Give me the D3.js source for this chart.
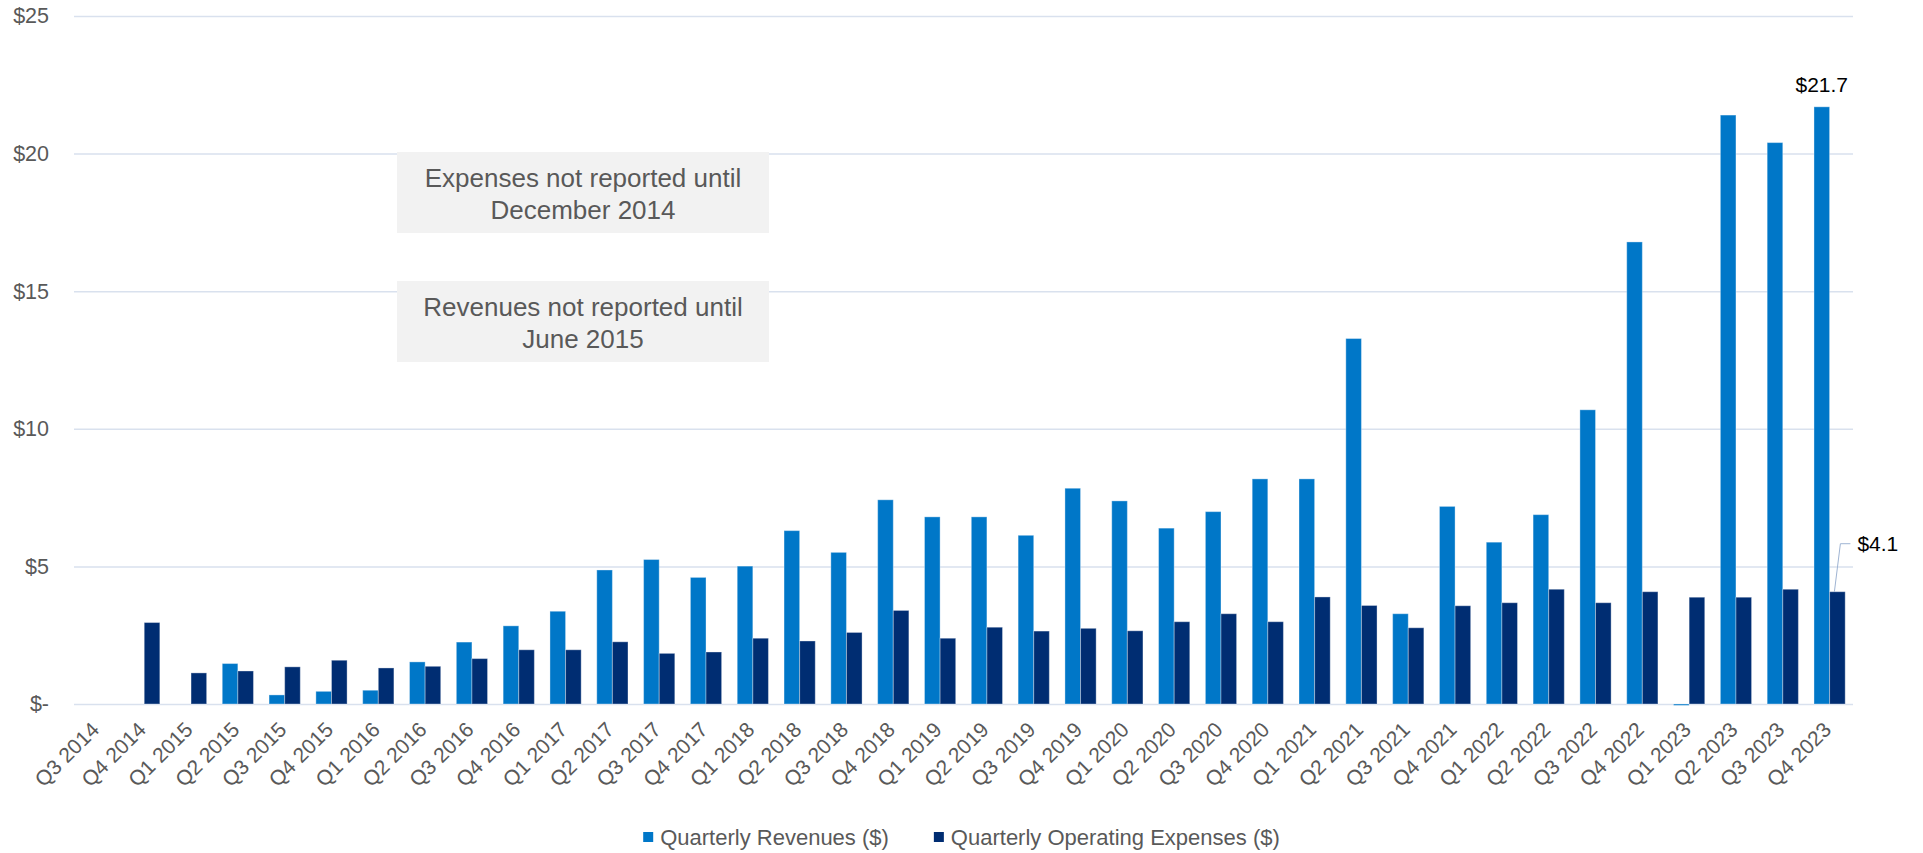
<!DOCTYPE html>
<html>
<head>
<meta charset="utf-8">
<script src="https://cdn.jsdelivr.net/npm/d3@7"></script>
<style>
  body { margin: 0; background: #fff; }
  svg { display: block; font-family: "Liberation Sans", Arial, sans-serif; }
</style>
</head>
<body>
<main></main>
<script>
      var quarters = ["Q3 2014","Q4 2014","Q1 2015","Q2 2015","Q3 2015","Q4 2015","Q1 2016","Q2 2016",
                      "Q3 2016","Q4 2016","Q1 2017","Q2 2017","Q3 2017","Q4 2017","Q1 2018","Q2 2018",
                      "Q3 2018","Q4 2018","Q1 2019","Q2 2019","Q3 2019","Q4 2019","Q1 2020","Q2 2020",
                      "Q3 2020","Q4 2020","Q1 2021","Q2 2021","Q3 2021","Q4 2021","Q1 2022","Q2 2022",
                      "Q3 2022","Q4 2022","Q1 2023","Q2 2023","Q3 2023","Q4 2023"];
      // null = not reported
      var revenues = [null,null,null,1.47,0.33,0.46,0.50,1.53,
                      2.25,2.84,3.37,4.87,5.25,4.60,5.01,6.30,
                      5.51,7.42,6.80,6.80,6.13,7.84,7.38,6.39,
                      6.99,8.18,8.18,13.28,3.28,7.18,5.88,6.88,
                      10.69,16.79,-0.05,21.40,20.40,21.70];
      var expenses = [null,2.96,1.13,1.20,1.35,1.59,1.31,1.37,
                      1.65,1.97,1.97,2.26,1.84,1.89,2.39,2.29,
                      2.60,3.40,2.39,2.79,2.65,2.75,2.66,2.99,
                      3.28,2.99,3.89,3.58,2.77,3.57,3.68,4.17,
                      3.68,4.08,3.88,3.88,4.17,4.08];
      var seriesNames = ["Quarterly Revenues ($)", "Quarterly Operating Expenses ($)"];
      var seriesColors = ["#0077c8", "#002d72"];
      var yTicks = [0, 5, 10, 15, 20, 25];
      var notes = [["Expenses not reported until", "December 2014"],
                   ["Revenues not reported until", "June 2015"]];

      var W = 1923, H = 853;
      var margin = {top: 16, bottom: 149, left: 74, right: 70};
      var textCol = "#595959";

      var svg = d3.select("main")
                  .append("svg")
                  .attr("width", W)
                  .attr("height", H);

      var x = d3.scaleBand()
                .domain(quarters)
                .range([margin.left, W - margin.right])
                .paddingInner(0)
                .paddingOuter(0);
      var xs = d3.scaleBand()
                 .domain([0, 1])
                 .range([0, x.bandwidth()])
                 .paddingInner(0)
                 .paddingOuter(0.5);
      var y = d3.scaleLinear()
                .domain([0, 25])
                .range([H - margin.bottom, margin.top]);

      // gridlines + y labels
      var yAxis = d3.axisLeft(y)
                    .tickValues(yTicks)
                    .tickSize(-(W - margin.left - margin.right))
                    .tickPadding(25)
                    .tickFormat(function(d) { return d === 0 ? "$-" : "$" + d; });
      var ga = svg.append("g")
                  .attr("transform", "translate(" + margin.left + ",0)")
                  .call(yAxis);
      ga.select(".domain").remove();
      ga.selectAll(".tick line")
        .attr("stroke", "#d9e1ee")
        .attr("stroke-width", 1.5);
      ga.selectAll(".tick text")
        .attr("fill", textCol)
        .style("font-size", "21.5px");

      // annotation boxes
      var boxes = svg.append("g");
      notes.forEach(function(lines, i) {
        var top = [152, 281][i];
        var g = boxes.append("g");
        g.append("rect")
         .attr("x", 397)
         .attr("y", top)
         .attr("width", 372)
         .attr("height", 81)
         .attr("fill", "#f2f2f2");
        g.selectAll("text")
         .data(lines)
         .enter()
         .append("text")
         .attr("x", 583)
         .attr("y", function(d, j) { return top + 35 + j * 32; })
         .attr("text-anchor", "middle")
         .attr("fill", textCol)
         .style("font-size", "26px")
         .text(function(d) { return d; });
      });

      // bars
      var data = quarters.map(function(q, i) {
        return {q: q, vals: [revenues[i], expenses[i]]};
      });
      var groups = svg.append("g")
                      .selectAll("g")
                      .data(data)
                      .enter()
                      .append("g")
                      .attr("transform", function(d) { return "translate(" + x(d.q) + ",0)"; });
      groups.selectAll("rect")
            .data(function(d) {
              return d.vals.map(function(v, k) { return {k: k, v: v}; })
                           .filter(function(e) { return e.v !== null; });
            })
            .enter()
            .append("rect")
            .attr("x", function(d) { return xs(d.k); })
            .attr("y", function(d) { return y(Math.max(0, d.v)); })
            .attr("width", xs.bandwidth())
            .attr("height", function(d) { return Math.max(Math.abs(y(d.v) - y(0)), 0.5); })
            .attr("fill", function(d) { return seriesColors[d.k]; })
            .attr("stroke", "#ffffff")
            .attr("stroke-opacity", 0.35)
            .attr("stroke-width", 1);

      // x labels
      svg.append("g")
         .selectAll("text")
         .data(quarters)
         .enter()
         .append("text")
         .attr("transform", function(d) {
           return "translate(" + (x(d) + x.bandwidth() / 2 + 3) + "," + (H - margin.bottom + 27) + ") rotate(-45)";
         })
         .attr("text-anchor", "end")
         .attr("fill", textCol)
         .style("font-size", "21px")
         .text(function(d) { return d; });

      // data labels on last quarter
      var last = quarters.length - 1;
      var lastQ = quarters[last];
      svg.append("text")
         .attr("x", x(lastQ) + xs(0) + xs.bandwidth() / 2)
         .attr("y", y(revenues[last]) - 15)
         .attr("text-anchor", "middle")
         .attr("fill", "#000")
         .style("font-size", "21px")
         .text("$" + revenues[last].toFixed(1));
      var ex = x(lastQ) + xs(1) + xs.bandwidth() / 2;
      var ey = y(expenses[last]);
      svg.append("polyline")
         .attr("points", [[ex - 3, ey], [ex + 3, ey - 48], [ex + 13, ey - 48]].join(" "))
         .attr("fill", "none")
         .attr("stroke", "#9fb4d3")
         .attr("stroke-width", 1);
      svg.append("text")
         .attr("x", ex + 20)
         .attr("y", ey - 41)
         .attr("fill", "#000")
         .style("font-size", "21px")
         .text("$" + expenses[last].toFixed(1));

      // legend
      var legend = svg.append("g");
      var items = legend.selectAll("g")
                        .data(seriesNames)
                        .enter()
                        .append("g");
      items.append("rect")
           .attr("width", 10)
           .attr("height", 10)
           .attr("y", -5)
           .attr("fill", function(d, i) { return seriesColors[i]; });
      items.append("text")
           .attr("x", 17)
           .attr("y", 8)
           .attr("fill", textCol)
           .style("font-size", "22px")
           .text(function(d) { return d; });
      var gap = 45, offs = 0, pos = [];
      items.each(function() {
        pos.push(offs);
        offs += 17 + d3.select(this).select("text").node().getComputedTextLength() + gap;
      });
      var total = offs - gap;
      items.attr("transform", function(d, i) {
        return "translate(" + (W / 2 - total / 2 + pos[i]) + ",837)";
      });
</script>
</body>
</html>
